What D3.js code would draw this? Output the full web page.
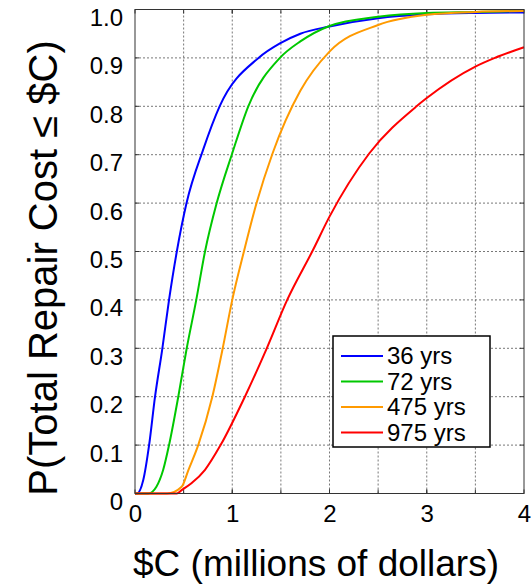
<!DOCTYPE html>
<html>
<head>
<meta charset="utf-8">
<script src="https://cdn.jsdelivr.net/npm/d3@7"></script>
<style>
  body { margin: 0; background: #fff; }
  text { font-family: Arial, "Liberation Sans", sans-serif; fill: #000; }
</style>
</head>
<body>
<script>
// values
const seriesNames = ['36 yrs', '72 yrs', '475 yrs', '975 yrs'];
const seriesColors = ['#0000ff', '#00c800', '#ff9a00', '#ff0000'];

const cost36 = [0, 0.02, 0.085, 0.145, 0.206, 0.28, 0.35, 0.43, 0.53, 0.70, 0.87, 1.27, 1.49, 1.70, 2.0, 2.5, 3.0, 3.5, 4.0];
const prob36 = [0, 0, 0.028, 0.1, 0.2, 0.298, 0.4, 0.5, 0.6, 0.71, 0.8, 0.9, 0.93, 0.95, 0.965, 0.982, 0.99, 0.993, 0.994];

const cost72 = [0, 0.137, 0.22, 0.29, 0.35, 0.445, 0.53, 0.63, 0.72, 0.84, 1.0, 1.165, 1.49, 1.70, 2.0, 2.5, 3.0, 3.5, 4.0];
const prob72 = [0, 0, 0.014, 0.049, 0.1, 0.2, 0.298, 0.4, 0.5, 0.6, 0.703, 0.8, 0.9, 0.934, 0.966, 0.985, 0.993, 0.995, 0.997];

const cost475 = [0, 0.33, 0.48, 0.55, 0.65, 0.795, 0.9, 1.0, 1.12, 1.25, 1.415, 1.70, 2.0, 2.5, 3.0, 3.5, 4.0];
const prob475 = [0, 0, 0.014, 0.049, 0.1, 0.2, 0.298, 0.4, 0.5, 0.6, 0.703, 0.832, 0.913, 0.968, 0.989, 0.995, 0.997];

const cost975 = [0, 0.43, 0.48, 0.58, 0.72, 0.88, 1.13, 1.355, 1.565, 1.83, 2.0, 2.41, 2.895, 3.0, 3.5, 3.7, 4.0];
const prob975 = [0, 0, 0.007, 0.021, 0.049, 0.1, 0.2, 0.3, 0.4, 0.503, 0.572, 0.703, 0.8, 0.817, 0.882, 0.9, 0.922];

const xTicks = [0, 1, 2, 3, 4];
const xGrid = [0.5, 1, 1.5, 2, 2.5, 3, 3.5];
const yTicks = [0, 0.1, 0.2, 0.3, 0.4, 0.5, 0.6, 0.7, 0.8, 0.9, 1.0];

const costs = [cost36, cost72, cost475, cost975];
const probs = [prob36, prob72, prob475, prob975];

const width = 531;
const height = 586;
const margin = { top: 9.5, right: 7, bottom: 92.5, left: 135 };

const svg = d3.select('body').append('svg').attr('width', width).attr('height', height);

const x = d3.scaleLinear().domain([0, 4]).range([margin.left, width - margin.right]);
const y = d3.scaleLinear().domain([0, 1]).range([height - margin.bottom, margin.top]);

// grid
const grid = svg.append('g')
  .attr('stroke', '#555').attr('stroke-width', 0.8).attr('stroke-dasharray', '2,2');
grid.selectAll('.gx').data(xGrid).enter().append('line')
  .attr('x1', d => x(d)).attr('x2', d => x(d))
  .attr('y1', y(0)).attr('y2', y(1));
grid.selectAll('.gy').data(yTicks.slice(1, -1)).enter().append('line')
  .attr('x1', x(0)).attr('x2', x(4))
  .attr('y1', d => y(d)).attr('y2', d => y(d));

// small inner ticks on the frame
const tk = svg.append('g').attr('stroke', '#333').attr('stroke-width', 1);
yTicks.forEach(d => {
  tk.append('line').attr('x1', x(0)).attr('x2', x(0) + 4).attr('y1', y(d)).attr('y2', y(d));
  tk.append('line').attr('x1', x(4)).attr('x2', x(4) - 4).attr('y1', y(d)).attr('y2', y(d));
});
xGrid.concat(xTicks).forEach(d => {
  tk.append('line').attr('x1', x(d)).attr('x2', x(d)).attr('y1', y(0)).attr('y2', y(0) - 4);
  tk.append('line').attr('x1', x(d)).attr('x2', x(d)).attr('y1', y(1)).attr('y2', y(1) + 4);
});

// curves
const line = d3.line()
  .x(d => x(d[0]))
  .y(d => y(d[1]))
  .curve(d3.curveMonotoneX);

seriesNames.forEach((name, i) => {
  const pts = costs[i].map((c, j) => [c, probs[i][j]]);
  svg.append('path')
    .datum(pts)
    .attr('fill', 'none')
    .attr('stroke', seriesColors[i])
    .attr('stroke-width', 2)
    .attr('d', line);
});

// frame
svg.append('rect')
  .attr('x', x(0)).attr('y', y(1))
  .attr('width', x(4) - x(0)).attr('height', y(0) - y(1))
  .attr('fill', 'none').attr('stroke', '#333').attr('stroke-width', 1);

// axes
const yAxis = svg.append('g')
  .attr('transform', `translate(${x(0)},0)`)
  .call(d3.axisLeft(y).tickValues(yTicks).tickSize(0).tickPadding(12)
    .tickFormat(d => d === 0 ? '0' : d.toFixed(1)));
yAxis.select('.domain').remove();
yAxis.selectAll('text').attr('font-size', 24).attr('dy', '0.67em')
  .attr('font-family', 'Arial, "Liberation Sans", sans-serif');

const xAxis = svg.append('g')
  .attr('transform', `translate(0,${y(0)})`)
  .call(d3.axisBottom(x).tickValues(xTicks).tickSize(0).tickPadding(11)
    .tickFormat(d3.format('d')));
xAxis.select('.domain').remove();
xAxis.selectAll('text').attr('font-size', 24)
  .attr('font-family', 'Arial, "Liberation Sans", sans-serif');

// axis titles
svg.append('text')
  .attr('x', 316).attr('y', 576)
  .attr('text-anchor', 'middle')
  .attr('font-size', 37)
  .text('$C (millions of dollars)');

svg.append('text')
  .attr('transform', 'translate(57,268) rotate(-90)')
  .attr('text-anchor', 'middle')
  .attr('font-size', 40)
  .text('P(Total Repair Cost \u2264 $C)');

// legend
const lg = svg.append('g').attr('transform', 'translate(333,336)');
lg.append('rect')
  .attr('width', 157).attr('height', 111)
  .attr('fill', '#fff').attr('stroke', '#000').attr('stroke-width', 1.5);
seriesNames.forEach((name, i) => {
  const ly = 20 + i * 25.5;
  lg.append('line')
    .attr('x1', 8).attr('x2', 50).attr('y1', ly).attr('y2', ly)
    .attr('stroke', seriesColors[i]).attr('stroke-width', 2);
  lg.append('text')
    .attr('x', 54).attr('y', ly + 8)
    .attr('font-size', 24)
    .text(name);
});
</script>
</body>
</html>
